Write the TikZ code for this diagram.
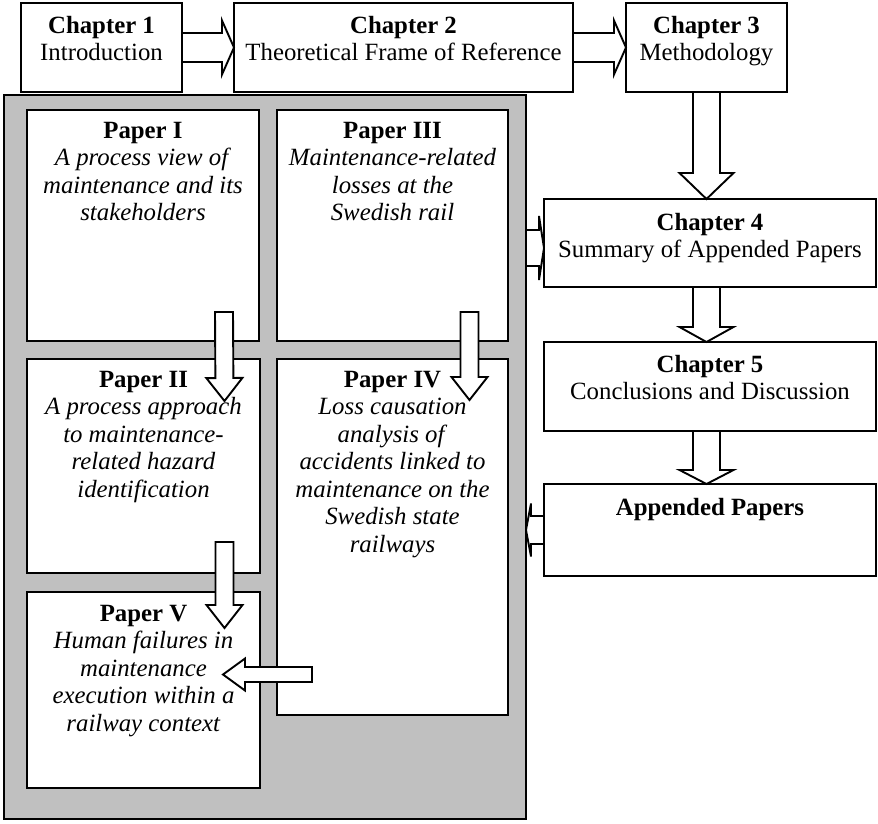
\documentclass[tikz,border=0pt]{standalone}
\usepackage{fontspec}
\setmainfont{Liberation Serif}
\usetikzlibrary{calc}
\definecolor{panelgrey}{RGB}{192,192,192}

% block arrow: start, tip, half shaft width, half head width, head length
\newcommand\blockarrow[5]{%
  \coordinate (ab) at ($(#2)!#5!(#1)$);
  \draw[barrow] ($(#1)!#3!90:(#2)$) -- ($(ab)!#3!90:(#2)$) -- ($(ab)!#4!90:(#2)$)
    -- (#2) -- ($(ab)!#4!-90:(#2)$) -- ($(ab)!#3!-90:(#2)$) -- ($(#1)!#3!-90:(#2)$) -- cycle;
}

\begin{document}
\begin{tikzpicture}[x=1pt,y=-1pt,
  box/.style={draw, line width=2.4pt, fill=white, anchor=north west, inner sep=0pt, outer sep=0pt},
  panel/.style={draw, line width=1.3pt, fill=panelgrey, anchor=north west, inner sep=0pt, outer sep=0pt},
  barrow/.style={draw, line width=1.9pt, fill=white, line join=miter},
  txt/.style={anchor=north, align=center, inner sep=0pt, font=\fontsize{24.8pt}{27.5pt}\selectfont}]
\useasboundingbox (0,0) rectangle (878,823);

% grey panel with the appended papers
\node[panel, minimum width=522pt, minimum height=724pt] (panel) at (4,95) {};
\node[box, minimum width=232pt, minimum height=231pt] (p1) at (27,110) {};
\node[box, minimum width=231pt, minimum height=231pt] (p3) at (277,110) {};
\node[box, minimum width=233pt, minimum height=214pt] (p2) at (27,359) {};
\node[box, minimum width=231pt, minimum height=356pt] (p4) at (277,359) {};
\node[box, minimum width=233pt, minimum height=196pt] (p5) at (27,592) {};

% chapter boxes
\node[box, minimum width=161pt, minimum height=89pt] (ch1) at (21,3) {};
\node[box, minimum width=339pt, minimum height=89pt] (ch2) at (234,3) {};
\node[box, minimum width=161pt, minimum height=89pt] (ch3) at (626,3) {};
\node[box, minimum width=332pt, minimum height=88pt] (ch4) at (544,199) {};
\node[box, minimum width=332pt, minimum height=89pt] (ch5) at (544,342) {};
\node[box, minimum width=332pt, minimum height=92pt] (app) at (544,484) {};

% block arrows between chapters
\blockarrow{ch1.east}{ch2.west}{14.5pt}{27pt}{12pt}
\blockarrow{ch2.east}{ch3.west}{14.5pt}{27pt}{12pt}
\coordinate (c4in) at (ch3.south |- ch4.north);
\blockarrow{ch3.south}{c4in}{13.5pt}{27pt}{26pt}
\coordinate (c4out) at (ch3.south |- ch4.south);
\coordinate (c5in) at (ch3.south |- ch5.north);
\blockarrow{c4out}{c5in}{13.5pt}{27pt}{15pt}
\coordinate (c5out) at (ch3.south |- ch5.south);
\coordinate (appin) at (ch3.south |- app.north);
\blockarrow{c5out}{appin}{13.5pt}{27pt}{14pt}

% arrows between panel and chapter column
\coordinate (c4side) at ($(ch4.west)+(0,5)$);
\coordinate (panelout) at (panel.east |- c4side);
\blockarrow{panelout}{c4side}{18pt}{32pt}{5pt}
\coordinate (panelin) at (panel.east |- app.west);
\blockarrow{app.west}{panelin}{14pt}{26.5pt}{5pt}

% arrows between papers
\coordinate (p1out) at ($(p1.south)+(81,-29)$);
\coordinate (p2in) at ($(p2.north)+(81,42)$);
\blockarrow{p1out}{p2in}{9pt}{18pt}{23pt}
\coordinate (p3out) at ($(p3.south)+(77,-29)$);
\coordinate (p4in) at ($(p4.north)+(77,41)$);
\blockarrow{p3out}{p4in}{9pt}{18pt}{23pt}
\coordinate (p2out) at ($(p2.south)+(81,-31)$);
\coordinate (p5in) at ($(p5.north)+(81,36)$);
\blockarrow{p2out}{p5in}{9pt}{18pt}{23pt}
\coordinate (p4out) at ($(p4.west)+(35,137.5)$);
\coordinate (p5side) at ($(p5.east |- p4out)+(-37,0)$);
\blockarrow{p4out}{p5side}{7.5pt}{16pt}{22pt}

% texts
\node[txt] (t1) at ($(ch1.north)+(0,13)$) {\textbf{Chapter 1}\\Introduction};
\node[txt] (t2) at ($(ch2.north)+(0,13)$) {\textbf{Chapter 2}\\Theoretical Frame of Reference};
\node[txt] (t3) at ($(ch3.north)+(0,13)$) {\textbf{Chapter 3}\\Methodology};
\node[txt] (t4) at ($(ch4.north)+(0,14)$) {\textbf{Chapter 4}\\Summary of Appended Papers};
\node[txt] (t5) at ($(ch5.north)+(0,13)$) {\textbf{Chapter 5}\\Conclusions and Discussion};
\node[txt] (ta) at ($(app.north)+(0,14)$) {\textbf{Appended Papers}};

\node[txt] (tp1) at ($(p1.north)+(0,12)$) {\textbf{Paper I}\\\textit{A process view of}\\\textit{maintenance and its}\\\textit{stakeholders}};
\node[txt] (tp3) at ($(p3.north)+(0,12)$) {\textbf{Paper III}\\\textit{Maintenance-related}\\\textit{losses at the}\\\textit{Swedish rail}};
\node[txt] (tp2) at ($(p2.north)+(0,12)$) {\textbf{Paper II}\\\textit{A process approach}\\\textit{to maintenance-}\\\textit{related hazard}\\\textit{identification}};
\node[txt] (tp4) at ($(p4.north)+(0,12)$) {\textbf{Paper IV}\\\textit{Loss causation}\\\textit{analysis of}\\\textit{accidents linked to}\\\textit{maintenance on the}\\\textit{Swedish state}\\\textit{railways}};
\node[txt] (tp5) at ($(p5.north)+(0,13)$) {\textbf{Paper V}\\\textit{Human failures in}\\\textit{maintenance}\\\textit{execution within a}\\\textit{railway context}};
\end{tikzpicture}
\end{document}
